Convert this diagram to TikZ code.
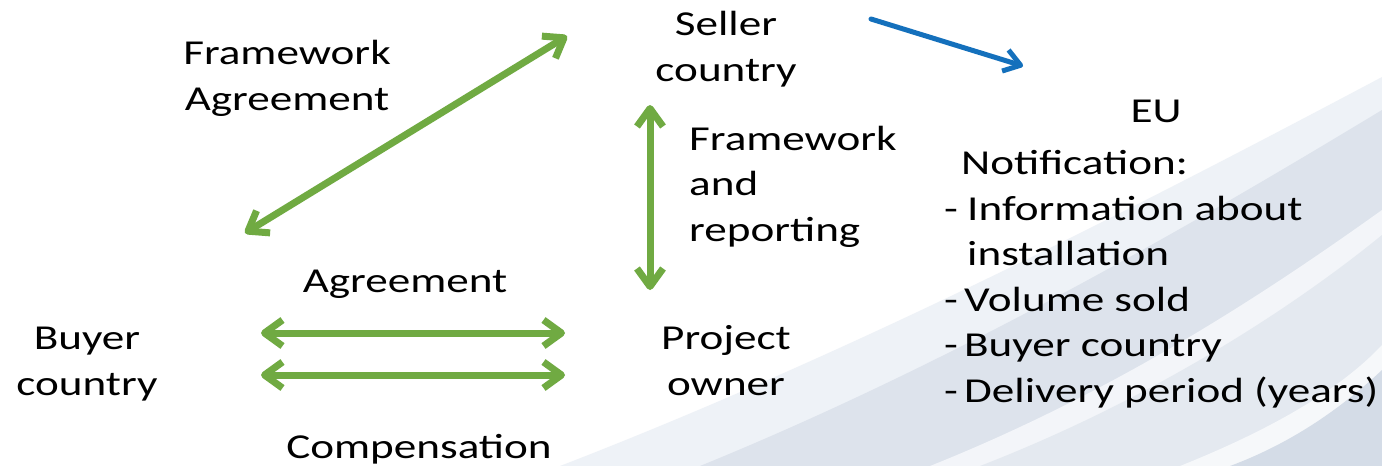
\documentclass[tikz,border=0pt]{standalone}
\usepackage{fontspec}
\setmainfont{Carlito}[FakeStretch=1.29]
\usetikzlibrary{arrows.meta, positioning}
\definecolor{arrgreen}{RGB}{112,170,66}
\definecolor{arrblue}{RGB}{20,112,188}
\definecolor{swoosha}{RGB}{238,242,247}
\definecolor{swooshb}{RGB}{221,227,236}
\definecolor{swooshc}{RGB}{243,245,249}
\definecolor{swooshd}{RGB}{228,233,240}
\definecolor{swooshe}{RGB}{246,248,250}
\definecolor{swooshf}{RGB}{212,220,231}

\begin{document}
\begin{tikzpicture}[x=1pt, y=-1pt,
  lbl/.style={inner sep=0pt, font=\fontsize{35}{45.5}\selectfont, align=center, anchor=base},
  dblarrow/.style={draw=arrgreen, line width=7pt, line cap=round,
    {Straight Barb[length=18pt, width=26pt, line join=round]}-{Straight Barb[length=18pt, width=26pt, line join=round]}},
  notearrow/.style={draw=arrblue, line width=5pt, line cap=round,
    -{Straight Barb[length=16pt, width=22pt, line join=round]}}]
 \fill[white] (0,0) rectangle (1382,466);
 \useasboundingbox (0,0) rectangle (1382,466);
 \fill[swoosha] (560,466) .. controls (860,350) and (1150,200) .. (1382,77) -- (1382,466) -- cycle;
 \fill[swooshb] (700,466) .. controls (960,360) and (1200,220) .. (1382,110) -- (1382,466) -- cycle;
 \fill[swooshc] (930,466) .. controls (1120,390) and (1270,290) .. (1382,210) -- (1382,466) -- cycle;
 \fill[swooshd] (980,466) .. controls (1150,400) and (1290,310) .. (1382,235) -- (1382,466) -- cycle;
 \fill[swooshe] (1180,466) .. controls (1270,430) and (1340,390) .. (1382,345) -- (1382,466) -- cycle;
 \fill[swooshf] (1230,466) .. controls (1300,440) and (1350,400) .. (1382,370) -- (1382,466) -- cycle;

 \node[lbl] (fwagree) at (287,110) {Framework\\Agreement};
 \node[lbl] (seller) at (726,81) {Seller\\country};
 \node[lbl, align=left, anchor=base west] (fwrep) at (689,241) {Framework\\and\\reporting};
 \node[lbl] (eu) at (1156,122) {EU};
 \node[lbl, align=left, anchor=base west] (notif) at (944,402)
  {\hspace*{17pt}Notification:\\
   \makebox[23pt][l]{-}Information about\\
   \hspace*{23pt}installation\\
   \makebox[20pt][l]{-}Volume sold\\
   \makebox[20pt][l]{-}Buyer country\\
   \makebox[20pt][l]{-}Delivery period (years)};
 \node[lbl] (agree) at (405,292) {Agreement};
 \node[lbl] (comp) at (419,458) {Compensation};
 \node[lbl] (buyer) at (87,395) {Buyer\\country};
 \node[lbl] (project) at (726,395) {Project\\owner};

 \coordinate (fwa) at (245,233);
 \coordinate (fwb) at (567,36);
 \coordinate (vta) at (650,105);
 \coordinate (vtb) at (650,290);
 \coordinate (ha) at (261,333);
 \coordinate (hb) at (565,333);
 \coordinate (hc) at (261,375);
 \coordinate (hd) at (565,375);
 \coordinate (bla) at (871,19);
 \coordinate (blb) at (1023,66);

 \draw[dblarrow] (fwa) -- (fwb);
 \draw[dblarrow] (vta) -- (vtb);
 \draw[dblarrow] (ha) -- (hb);
 \draw[dblarrow] (hc) -- (hd);
 \draw[notearrow] (bla) -- (blb);
\end{tikzpicture}
\end{document}
